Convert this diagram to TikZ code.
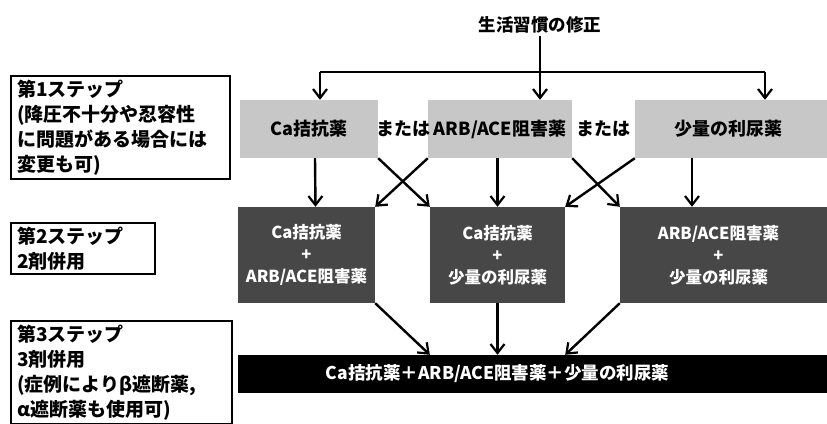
\documentclass[tikz,border=0pt]{standalone}
\usepackage{fontspec}
\setmainfont{Noto Sans CJK JP}
\usetikzlibrary{arrows.meta}
\begin{document}
\begin{tikzpicture}[x=1pt,y=-1pt,
  arr/.style={line width=2.4pt,-{Straight Barb[length=9pt,width=14pt,line width=2.2pt]}},
  lab/.style={draw,line width=2pt,align=left,anchor=north west,inner xsep=6pt,inner ysep=4pt,font=\bfseries\fontsize{19}{25}\selectfont},
  s1box/.style={fill=black!22,minimum height=58pt,inner sep=0pt,font=\bfseries\fontsize{18}{20}\selectfont},
  s2box/.style={fill=black!72,text=white,minimum height=96pt,inner sep=0pt,align=center,font=\bfseries\fontsize{16.5}{22}\selectfont},
  ortext/.style={inner sep=0pt,font=\bfseries\fontsize{18}{20}\selectfont}]
\useasboundingbox[fill=white] (0,0) rectangle (827,423);

% title
\node[font=\bfseries\fontsize{17.5}{20}\selectfont,inner sep=2pt] (t) at (540,25) {生活習慣の修正};

% step labels
\node[lab,text width=207pt] (L1) at (10,75) {第1ステップ\\(降圧不十分や忍容性\\に問題がある場合には\\変更も可)};
\node[lab,text width=132pt] (L2) at (10,222) {第2ステップ\\2剤併用};
\node[lab,text width=209pt] (L3) at (10,320) {第3ステップ\\3剤併用\\(症例によりβ遮断薬,\\α遮断薬も使用可)};

% step 1
\node[s1box,minimum width=138pt] (s1a) at (309,129) {Ca拮抗薬};
\node[s1box,minimum width=144pt] (s1b) at (500,129) {ARB/ACE阻害薬};
\node[s1box,minimum width=192pt] (s1c) at (731,129) {少量の利尿薬\kern6pt};
\node[ortext] (or1) at (403,129) {または};
\node[ortext] (or2) at (603,129) {または};

% step 2
\node[s2box,minimum width=137pt] (s2a) at (306.5,255) {Ca拮抗薬\\+\\ARB/ACE阻害薬};
\node[s2box,minimum width=135pt] (s2b) at (497.5,255) {Ca拮抗薬\\+\\少量の利尿薬};
\node[s2box,minimum width=207pt] (s2c) at (723.5,255) {ARB/ACE阻害薬\kern10pt\\+\kern10pt\\少量の利尿薬\kern10pt};

% step 3
\node[fill=black,text=white,minimum width=589pt,minimum height=38pt,inner sep=0pt,font=\bfseries\fontsize{17.5}{20}\selectfont] (s3) at (532.5,374) {Ca拮抗薬＋ARB/ACE阻害薬＋少量の利尿薬\kern70pt};

% top connectors
\coordinate (hl) at (320,72);
\coordinate (hr) at (765,72);
\draw[line width=2.4pt] (hl) -- (hr);
\draw[arr] (t.south) -- (t.south |- s1b.north);
\draw[arr] (hl) -- (hl |- s1a.north);
\draw[arr] (hr) -- (hr |- s1c.north);

% step1 -> step2
\draw[arr] ([xshift=6pt]s1a.south) -- ([xshift=9pt]s2a.north);
\draw[arr] (s1a.south east) -- (s2b.north west);
\draw[arr] (s1b.south west) -- (s2a.north east);
\draw[arr] (s2b.north |- s1b.south) -- (s2b.north);
\draw[arr] (s1b.south east) -- (s2c.north west);
\draw[arr] (s1c.south west) -- (s2b.north east);
\coordinate (rc) at (692,0);
\draw[arr] (rc |- s1c.south) -- (rc |- s2c.north);

% step2 -> step3
\draw[arr] (s2a.south east) -- (s2b.south west |- s3.north);
\draw[arr] (s2b.south) -- (s2b.south |- s3.north);
\draw[arr] (s2c.south west) -- (s2b.south east |- s3.north);
\end{tikzpicture}
\end{document}
